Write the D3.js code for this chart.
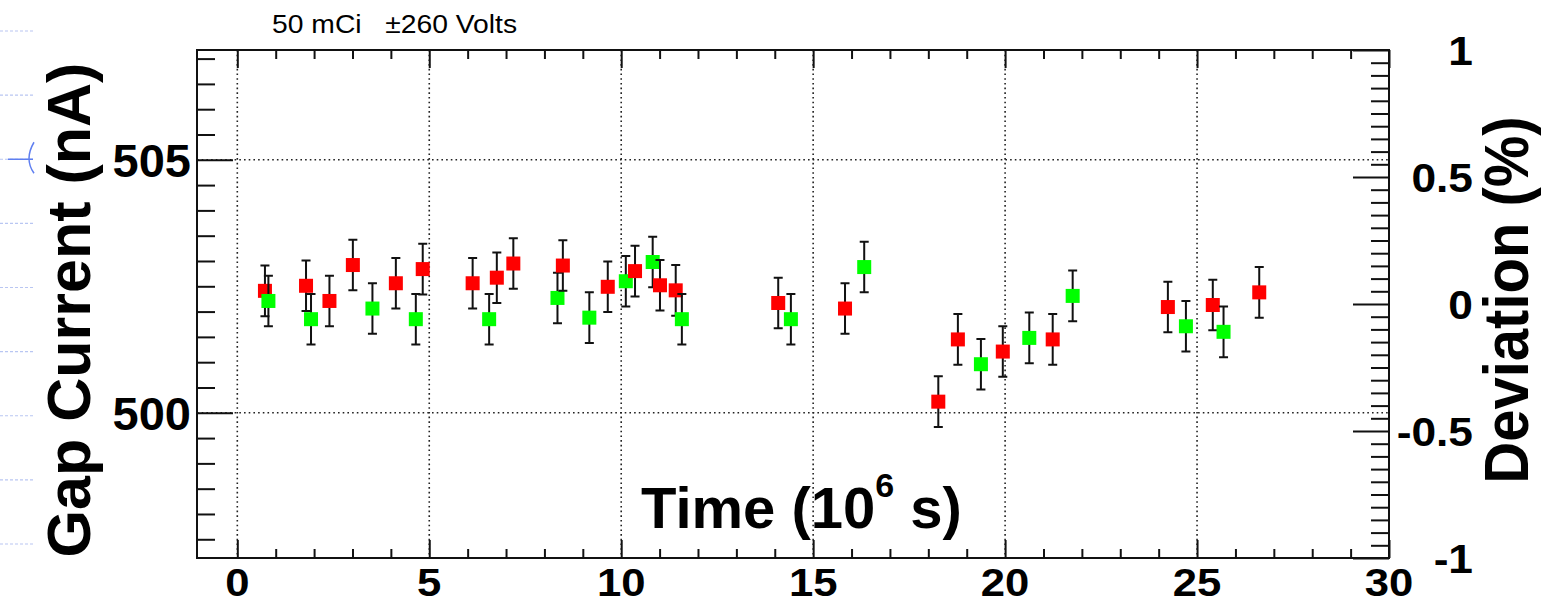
<!DOCTYPE html>
<html>
<head>
<meta charset="utf-8">
<script src="https://cdn.jsdelivr.net/npm/d3@7"></script>
<style>
  body { margin: 0; background: #fff; }
  svg { display: block; }
  text { font-family: "Liberation Sans", Arial, Helvetica, sans-serif; white-space: pre; }
</style>
</head>
<body>
<div id="chart"></div>
<script>
// ========================================
// Data (time in 10^6 s, current in nA)
// ========================================
const redTime    = [0.72, 1.79, 2.40, 3.01, 4.13, 4.83, 6.13, 6.76, 7.19, 8.48, 9.65, 10.36,
                    11.01, 11.42, 14.09, 15.83, 18.26, 18.77, 19.94, 21.24, 24.24, 25.41, 26.62];
const redCurrent = [502.41, 502.51, 502.21, 502.92, 502.56, 502.84, 502.56, 502.67, 502.95, 502.91, 502.49, 502.80,
                    502.52, 502.42, 502.17, 502.06, 500.22, 501.45, 501.21, 501.45, 502.09, 502.13, 502.38];
const redError   = [0.5, 0.5, 0.5, 0.5, 0.5, 0.5, 0.5, 0.5, 0.5, 0.5, 0.5, 0.5,
                    0.5, 0.5, 0.5, 0.5, 0.5, 0.5, 0.5, 0.5, 0.5, 0.5, 0.5];

const greenTime    = [0.81, 1.92, 3.52, 4.65, 6.56, 8.34, 9.17, 10.12, 10.82, 11.58, 14.42, 16.33,
                      19.37, 20.63, 21.76, 24.71, 25.69];
const greenCurrent = [502.21, 501.85, 502.06, 501.85, 501.85, 502.27, 501.88, 502.60, 502.98, 501.85, 501.85, 502.88,
                      500.96, 501.48, 502.31, 501.71, 501.60];
const greenError   = [0.5, 0.5, 0.5, 0.5, 0.5, 0.5, 0.5, 0.5, 0.5, 0.5, 0.5, 0.5,
                      0.5, 0.5, 0.5, 0.5, 0.5];

const xLabels   = [0, 5, 10, 15, 20, 25, 30];
const yLabels   = [500, 505];
const devLabels = [-1, -0.5, 0, 0.5, 1];

const xDomain   = [-1.05, 30];
const yDomain   = [497.13, 507.17];   // = mean current 502.15 nA +/- 1 %
const devDomain = [-1, 1];

const title  = '50 mCi   \u00B1260 Volts';
const xTitle = 'Time (10';
const yTitle = 'Gap Current (nA)';
const rTitle = 'Deviation (%)';

// ========================================
// Layout
// ========================================
const width = 1542, height = 605;
const frame = { left: 197, right: 1389, top: 50, bottom: 558 };

const svg = d3.select('#chart').append('svg')
  .attr('width', width)
  .attr('height', height);

svg.append('rect').attr('width', width).attr('height', height).attr('fill', '#fff');

const xScale   = d3.scaleLinear().domain(xDomain).range([frame.left, frame.right]);
const yScale   = d3.scaleLinear().domain(yDomain).range([frame.bottom, frame.top]);
const devScale = d3.scaleLinear().domain(devDomain).range([frame.bottom, frame.top]);

// ========================================
// Faint leftovers at the left edge of the picture
// ========================================
const stray = d3.scaleLinear().domain([0, 8]).range([31, 544]);
svg.append('g')
  .selectAll('line')
  .data(d3.range(9))
  .join('line')
    .attr('x1', 0).attr('x2', 34)
    .attr('y1', d => stray(d)).attr('y2', d => stray(d))
    .attr('stroke', '#b9c6f2')
    .attr('stroke-width', 1.2)
    .attr('stroke-dasharray', '3,2');
svg.append('line')
  .attr('x1', 8).attr('x2', 33).attr('y1', stray(2)).attr('y2', stray(2))
  .attr('stroke', '#5f7ff0').attr('stroke-width', 1.5);
svg.append('path')
  .attr('d', `M34,${stray(2) - 17} Q24,${stray(2)} 34,${stray(2) + 14}`)
  .attr('fill', 'none').attr('stroke', '#5f7ff0').attr('stroke-width', 1.5);

// ========================================
// Grid (dotted)
// ========================================
const grid = svg.append('g')
  .attr('stroke', '#222')
  .attr('stroke-width', 1.6)
  .attr('stroke-dasharray', '1.6,3.1');

grid.selectAll('.vgrid')
  .data(xLabels.filter(d => d < xDomain[1]))
  .join('line')
    .attr('class', 'vgrid')
    .attr('x1', d => xScale(d)).attr('x2', d => xScale(d))
    .attr('y1', frame.top).attr('y2', frame.bottom);

grid.selectAll('.hgrid')
  .data(yLabels)
  .join('line')
    .attr('class', 'hgrid')
    .attr('x1', frame.left).attr('x2', frame.right)
    .attr('y1', d => yScale(d)).attr('y2', d => yScale(d));

// ========================================
// Data: error bars and square markers, drawn in time order
// ========================================
const points = redTime.map((t, i) => ({ t, v: redCurrent[i], e: redError[i], c: '#ff0000' }))
  .concat(greenTime.map((t, i) => ({ t, v: greenCurrent[i], e: greenError[i], c: '#00ff00' })))
  .sort((a, b) => a.t - b.t);

const marker = 14, cap = 4.5;
const pts = svg.append('g')
  .selectAll('g')
  .data(points)
  .join('g');

pts.append('path')
  .attr('d', d => {
    const x = xScale(d.t), y1 = yScale(d.v + d.e), y2 = yScale(d.v - d.e);
    return `M${x},${y1}V${y2}M${x - cap},${y1}H${x + cap}M${x - cap},${y2}H${x + cap}`;
  })
  .attr('fill', 'none')
  .attr('stroke', '#111')
  .attr('stroke-width', 2);

pts.append('rect')
  .attr('x', d => xScale(d.t) - marker / 2)
  .attr('y', d => yScale(d.v) - marker / 2)
  .attr('width', marker)
  .attr('height', marker)
  .attr('fill', d => d.c);

// ========================================
// Frame and tick marks (all pointing inwards)
// ========================================
svg.append('rect')
  .attr('x', frame.left).attr('y', frame.top)
  .attr('width', frame.right - frame.left)
  .attr('height', frame.bottom - frame.top)
  .attr('fill', 'none')
  .attr('stroke', '#111')
  .attr('stroke-width', 2);

const xMinor   = d3.range(0, 31, 1).filter(d => d % 5 !== 0);
const yMinor   = d3.range(497.5, 507.01, 0.5).filter(d => !yLabels.includes(d));
const devMinor = d3.range(-20, 21).map(d => d / 20).filter(d => Math.abs(d * 2) % 1 > 0.001);

function styleAxis(g) {
  g.select('.domain').remove();
  g.selectAll('line').attr('stroke', '#111').attr('stroke-width', 2);
}

// bottom
svg.append('g').attr('transform', `translate(0,${frame.bottom})`)
  .call(d3.axisBottom(xScale).tickValues(xLabels).tickSize(-18).tickFormat(''))
  .call(styleAxis);
svg.append('g').attr('transform', `translate(0,${frame.bottom})`)
  .call(d3.axisBottom(xScale).tickValues(xMinor).tickSize(-9).tickFormat(''))
  .call(styleAxis);
// top
svg.append('g').attr('transform', `translate(0,${frame.top})`)
  .call(d3.axisTop(xScale).tickValues(xLabels).tickSize(-18).tickFormat(''))
  .call(styleAxis);
svg.append('g').attr('transform', `translate(0,${frame.top})`)
  .call(d3.axisTop(xScale).tickValues(xMinor).tickSize(-9).tickFormat(''))
  .call(styleAxis);
// left
svg.append('g').attr('transform', `translate(${frame.left},0)`)
  .call(d3.axisLeft(yScale).tickValues(yLabels).tickSize(-36).tickFormat(''))
  .call(styleAxis);
svg.append('g').attr('transform', `translate(${frame.left},0)`)
  .call(d3.axisLeft(yScale).tickValues(yMinor).tickSize(-18).tickFormat(''))
  .call(styleAxis);
// right (deviation)
svg.append('g').attr('transform', `translate(${frame.right},0)`)
  .call(d3.axisRight(devScale).tickValues(devLabels).tickSize(-36).tickFormat(''))
  .call(styleAxis);
svg.append('g').attr('transform', `translate(${frame.right},0)`)
  .call(d3.axisRight(devScale).tickValues(devMinor).tickSize(-18).tickFormat(''))
  .call(styleAxis);

// ========================================
// Tick labels
// ========================================
svg.append('g')
  .selectAll('text')
  .data(xLabels)
  .join('text')
    .attr('transform', d => `translate(${xScale(d)},596) scale(1.12,1)`)
    .attr('text-anchor', 'middle')
    .attr('font-size', 39)
    .attr('font-weight', 'bold')
    .text(d => d);

svg.append('g')
  .selectAll('text')
  .data(yLabels)
  .join('text')
    .attr('x', 191)
    .attr('y', d => yScale(d) + 17)
    .attr('text-anchor', 'end')
    .attr('font-size', 47)
    .attr('font-weight', 'bold')
    .text(d => d);

svg.append('g')
  .selectAll('text')
  .data(devLabels)
  .join('text')
    .attr('transform', d => `translate(1473,${devScale(d) + 14.7}) scale(1.08,1)`)
    .attr('text-anchor', 'end')
    .attr('font-size', 41)
    .attr('font-weight', 'bold')
    .text(d => d);

// ========================================
// Titles
// ========================================
svg.append('text')
  .attr('transform', 'translate(272,33) scale(1.11,1)')
  .attr('font-size', 25.5)
  .text(title);

const xt = svg.append('text')
  .attr('x', 641)
  .attr('y', 528)
  .attr('font-size', 58)
  .attr('font-weight', 'bold');
xt.append('tspan').text(xTitle);
xt.append('tspan').attr('dy', -31).attr('font-size', 34).text('6');
xt.append('tspan').attr('dy', 31).text(' s)');

svg.append('text')
  .attr('transform', 'translate(90,310) rotate(-90)')
  .attr('text-anchor', 'middle')
  .attr('font-size', 61)
  .attr('font-weight', 'bold')
  .text(yTitle);

svg.append('text')
  .attr('transform', 'translate(1528,300) rotate(-90) scale(1,1.08)')
  .attr('text-anchor', 'middle')
  .attr('font-size', 58)
  .attr('font-weight', 'bold')
  .text(rTitle);
</script>
</body>
</html>
